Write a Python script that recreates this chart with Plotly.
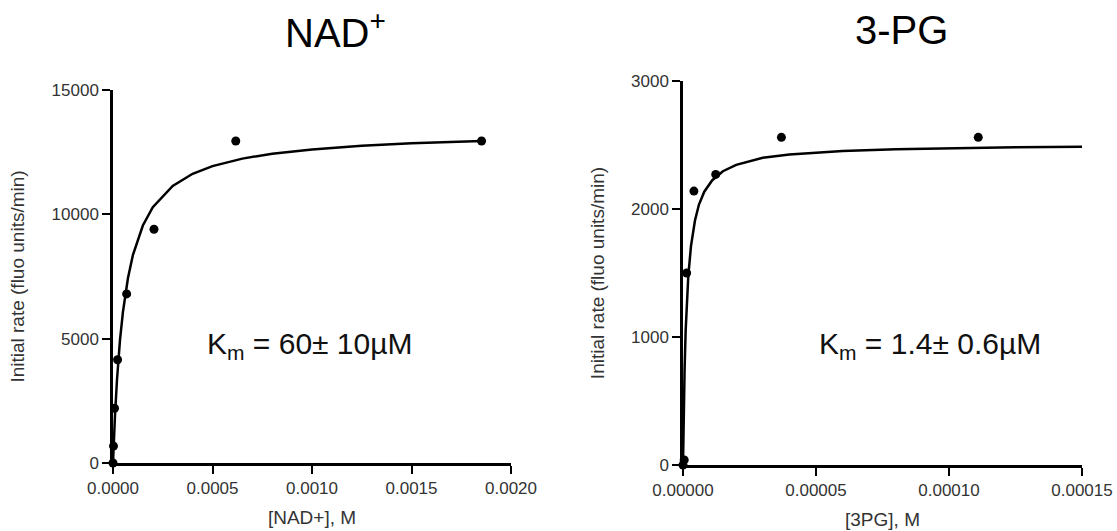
import plotly.graph_objects as go

# ---- data ----
nad_conc = [0, 2.5e-6, 7.6e-6, 2.29e-5, 6.86e-5, 2.06e-4, 6.17e-4, 1.852e-3]
nad_rate = [0, 680, 2200, 4150, 6800, 9400, 12950, 12950]
nad_fit_x = [0, 2e-6, 5e-6, 1e-5, 2e-5, 3.5e-5, 5e-5, 7.5e-5, 1e-4, 1.5e-4, 2e-4,
             3e-4, 4e-4, 5e-4, 6.5e-4, 8e-4, 1e-3, 1.25e-3, 1.5e-3, 1.852e-3]
nad_fit_y = [0, 430, 1030, 1910, 3340, 4930, 6080, 7430, 8360, 9550, 10290,
             11140, 11630, 11940, 12240, 12440, 12610, 12760, 12860, 12950]

pg_conc = [0, 4.6e-7, 1.37e-6, 4.1e-6, 1.23e-5, 3.7e-5, 1.11e-4]
pg_rate = [0, 40, 1500, 2140, 2270, 2560, 2560]
pg_fit_x = [0, 3e-7, 6e-7, 1e-6, 1.5e-6, 2e-6, 3e-6, 4.5e-6, 6e-6, 8e-6, 1.1e-5,
            1.5e-5, 2e-5, 3e-5, 4e-5, 6e-5, 8e-5, 1e-4, 1.25e-4, 1.5e-4]
pg_fit_y = [0, 440, 750, 1050, 1300, 1480, 1710, 1910, 2035, 2135, 2225,
            2295, 2345, 2400, 2425, 2453, 2467, 2475, 2482, 2487]

titles = ["NAD<sup>+</sup>", "3-PG"]
x_titles = ["[NAD+], M", "[3PG], M"]
y_title = "Initial rate (fluo units/min)"
km_texts = ["K<sub>m</sub> = 60± 10µM", "K<sub>m</sub> = 1.4± 0.6µM"]
nad_xticks = [0, 0.0005, 0.0010, 0.0015, 0.0020]
nad_yticks = [0, 5000, 10000, 15000]
pg_xticks = [0, 0.00005, 0.00010, 0.00015]
pg_yticks = [0, 1000, 2000, 3000]

FONT = "Liberation Sans, Arial, sans-serif"
W, H = 1117, 531

fig = go.Figure()
line_style = dict(color="black", width=2.5)
mk = dict(color="black", size=9)

fig.add_trace(go.Scatter(x=nad_fit_x, y=nad_fit_y, mode="lines", line=line_style,
                         xaxis="x", yaxis="y", cliponaxis=False, hoverinfo="skip"))
fig.add_trace(go.Scatter(x=nad_conc, y=nad_rate, mode="markers", marker=mk,
                         xaxis="x", yaxis="y", cliponaxis=False))
fig.add_trace(go.Scatter(x=pg_fit_x, y=pg_fit_y, mode="lines", line=line_style,
                         xaxis="x2", yaxis="y2", cliponaxis=False, hoverinfo="skip"))
fig.add_trace(go.Scatter(x=pg_conc, y=pg_rate, mode="markers", marker=mk,
                         xaxis="x2", yaxis="y2", cliponaxis=False))

# pixel boxes of the plot areas
L = dict(x0=113, x1=511, y0=90, y1=463)
R = dict(x0=683, x1=1082, y0=81, y1=465)

def xd(b):
    return [b["x0"] / W, b["x1"] / W]

def yd(b):
    return [1 - b["y1"] / H, 1 - b["y0"] / H]

tickfont = dict(family=FONT, size=17, color="#333")
titlefont = dict(family=FONT, size=19, color="#333")
ax_common = dict(showline=True, linecolor="black", linewidth=2.5, ticks="outside",
                 ticklen=8, tickwidth=2, tickcolor="black", showgrid=False,
                 zeroline=False, tickfont=tickfont, fixedrange=True, automargin=False)

fig.update_layout(
    width=W, height=H, margin=dict(l=0, r=0, t=0, b=0, autoexpand=False),
    paper_bgcolor="white", plot_bgcolor="white", showlegend=False,
    font=dict(family=FONT, color="#222"),
    xaxis=dict(domain=xd(L), range=[0, 0.002], tickvals=nad_xticks,
               tickformat=".4f", anchor="y",
               title=dict(text=x_titles[0], font=titlefont, standoff=14), **ax_common),
    yaxis=dict(domain=yd(L), range=[0, 15000], tickvals=nad_yticks,
               tickformat="d", anchor="x",
               title=dict(text=y_title, font=titlefont, standoff=22), **ax_common),
    xaxis2=dict(domain=xd(R), range=[0, 0.00015], tickvals=pg_xticks,
                tickformat=".5f", anchor="y2",
                title=dict(text=x_titles[1], font=titlefont, standoff=14), **ax_common),
    yaxis2=dict(domain=yd(R), range=[0, 3000], tickvals=pg_yticks,
                tickformat="d", anchor="x2",
                title=dict(text=y_title, font=titlefont, standoff=22), **ax_common),
)

annos = [
    dict(text=titles[0], x=335 / W, y=1 - 30 / H, font=dict(family=FONT, size=40, color="black")),
    dict(text=titles[1], x=901 / W, y=1 - 30 / H, font=dict(family=FONT, size=40, color="black")),
    dict(text=km_texts[0], x=310 / W, y=1 - 345 / H, font=dict(family=FONT, size=30, color="#111")),
    dict(text=km_texts[1], x=930 / W, y=1 - 345 / H, font=dict(family=FONT, size=30, color="#111")),
]
for a in annos:
    fig.add_annotation(xref="paper", yref="paper", xanchor="center", yanchor="middle",
                       showarrow=False, **a)

fig.write_html("out.html")
